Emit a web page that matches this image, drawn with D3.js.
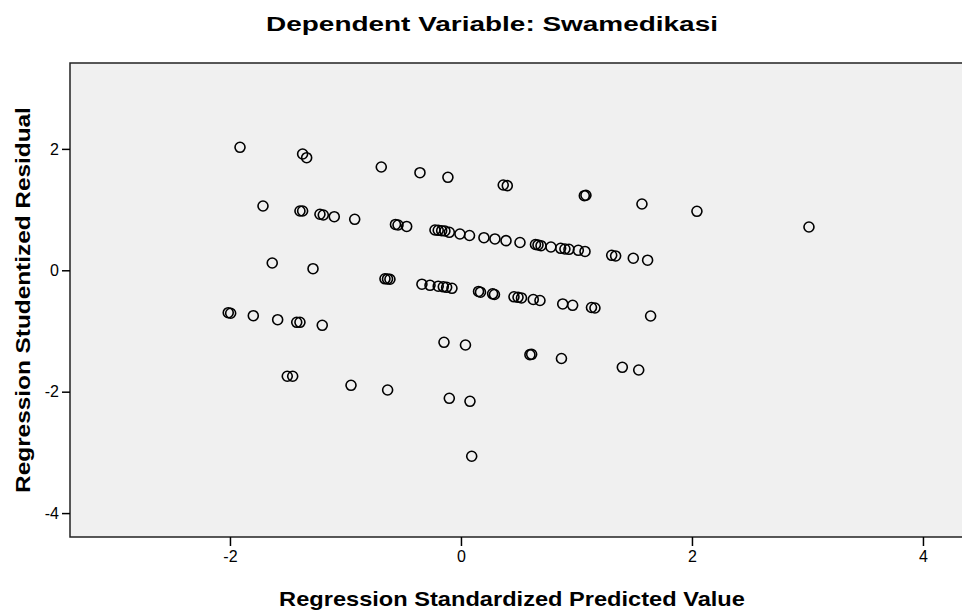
<!DOCTYPE html>
<html>
<head>
<meta charset="utf-8">
<script src="https://cdn.jsdelivr.net/npm/d3@7"></script>
<style>
  html, body { margin: 0; padding: 0; background: #ffffff; }
  svg { display: block; }
  text { font-family: "Liberation Sans", Arial, sans-serif; }
</style>
</head>
<body>
<svg id="chart" width="962" height="614"></svg>
<script>
// ---- data ----
const chartTitle = "Dependent Variable: Swamedikasi";
const xTitle = "Regression Standardized Predicted Value";
const yTitle = "Regression Studentized Residual";
const xTicks = [-2, 0, 2, 4];
const yTicks = [-4, -2, 0, 2];

const predicted = [
  -1.913, -1.371, -1.336, -0.690, -0.355, -0.113, 0.366, 0.401, 1.068, 1.082,
  1.567, 2.043, 3.013, -1.714,
  -1.394, -1.371, -1.221, -1.192, -1.097, -0.920, -0.567, -0.545, -0.470,
  -0.225, -0.197, -0.167, -0.139, -0.101, -0.009, 0.074, 0.199, 0.294, 0.390,
  0.511, 0.645, 0.667, 0.693, 0.779, 0.863, 0.900, 0.935, 1.016, 1.074,
  1.305, 1.339, 1.492, 1.616,
  -1.634, -1.281,
  -0.658, -0.636, -0.615, -0.338, -0.268, -0.197, -0.153, -0.124, -0.078,
  0.152, 0.169, 0.274, 0.290, 0.459, 0.494, 0.524, 0.626, 0.684, 0.881,
  0.967, 1.130, 1.160, 1.642,
  -2.015, -1.994, -1.798, -1.587, -1.422, -1.394, -1.201,
  -0.147, 0.039, 0.597, 0.612, 0.870, 1.397, 1.539, -1.504, -1.457,
  -0.952, -0.635, -0.101, 0.078, 0.093
];
const residual = [
  2.026, 1.916, 1.855, 1.702, 1.608, 1.532, 1.405, 1.394, 1.229, 1.236,
  1.092, 0.972, 0.713, 1.059,
  0.977, 0.977, 0.923, 0.911, 0.883, 0.840, 0.755, 0.746, 0.722,
  0.664, 0.659, 0.652, 0.647, 0.626, 0.598, 0.573, 0.537, 0.516, 0.488,
  0.458, 0.425, 0.417, 0.405, 0.384, 0.362, 0.351, 0.346, 0.329, 0.310,
  0.247, 0.236, 0.198, 0.166,
  0.120, 0.026,
  -0.140, -0.143, -0.148, -0.229, -0.247, -0.262, -0.272, -0.280, -0.297,
  -0.349, -0.361, -0.387, -0.399, -0.437, -0.445, -0.456, -0.481, -0.498, -0.555,
  -0.577, -0.613, -0.621, -0.753,
  -0.699, -0.708, -0.748, -0.814, -0.857, -0.857, -0.906,
  -1.186, -1.231, -1.390, -1.384, -1.453, -1.598, -1.643, -1.746, -1.746,
  -1.895, -1.972, -2.109, -2.158, -3.064
];

const points = predicted.map((x, i) => ({ x: x, y: residual[i] }));

// ---- layout ----
const svg = d3.select("#chart");
const plot = { left: 70, top: 63, right: 962, bottom: 537 };

const x = d3.scaleLinear().domain([-3.385, 4.338]).range([plot.left, plot.right]);
const y = d3.scaleLinear().domain([-4.394, 3.415]).range([plot.bottom, plot.top]);

// plot background
svg.append("rect")
  .attr("x", plot.left).attr("y", plot.top)
  .attr("width", plot.right - plot.left + 4)
  .attr("height", plot.bottom - plot.top)
  .attr("fill", "#f0f0f0")
  .attr("stroke", "#222")
  .attr("stroke-width", 1.5);

// axes
const fmt = d => String(d);
const xAxis = svg.append("g")
  .attr("transform", `translate(0,${plot.bottom})`)
  .call(d3.axisBottom(x).tickValues(xTicks).tickSize(9).tickPadding(5).tickFormat(fmt));
const yAxis = svg.append("g")
  .attr("transform", `translate(${plot.left},0)`)
  .call(d3.axisLeft(y).tickValues(yTicks).tickSize(8).tickPadding(3).tickFormat(fmt));

[xAxis, yAxis].forEach(g => {
  g.attr("font-size", 16);
  g.select(".domain").remove();
  g.selectAll(".tick line").attr("stroke", "#000").attr("stroke-width", 1.5);
  g.selectAll(".tick text")
    .attr("fill", "#000")
    .style("font-family", '"Liberation Sans", Arial, sans-serif')
    .style("font-size", "16px");
});

// points
svg.append("g")
  .selectAll("circle")
  .data(points)
  .enter().append("circle")
  .attr("cx", d => x(d.x))
  .attr("cy", d => y(d.y))
  .attr("r", 5)
  .attr("fill", "none")
  .attr("stroke", "#000")
  .attr("stroke-width", 1.6);

// stretched bold titles (glyphs widened horizontally, as in the reference)
function wideText(txt, cx, cy, targetWidth, rotate) {
  const g = svg.append("g")
    .attr("transform", `translate(${cx},${cy})` + (rotate ? " rotate(-90)" : ""));
  const t = g.append("text")
    .attr("text-anchor", "middle")
    .style("font-size", "20px")
    .style("font-weight", "bold")
    .attr("fill", "#000")
    .text(txt);
  const w = t.node().getComputedTextLength();
  t.attr("transform", `scale(${targetWidth / w},1)`);
}

wideText(chartTitle, 492, 31, 452, false);
wideText(xTitle, 512, 606, 466, false);
wideText(yTitle, 30, 300, 386, true);
</script>
</body>
</html>
